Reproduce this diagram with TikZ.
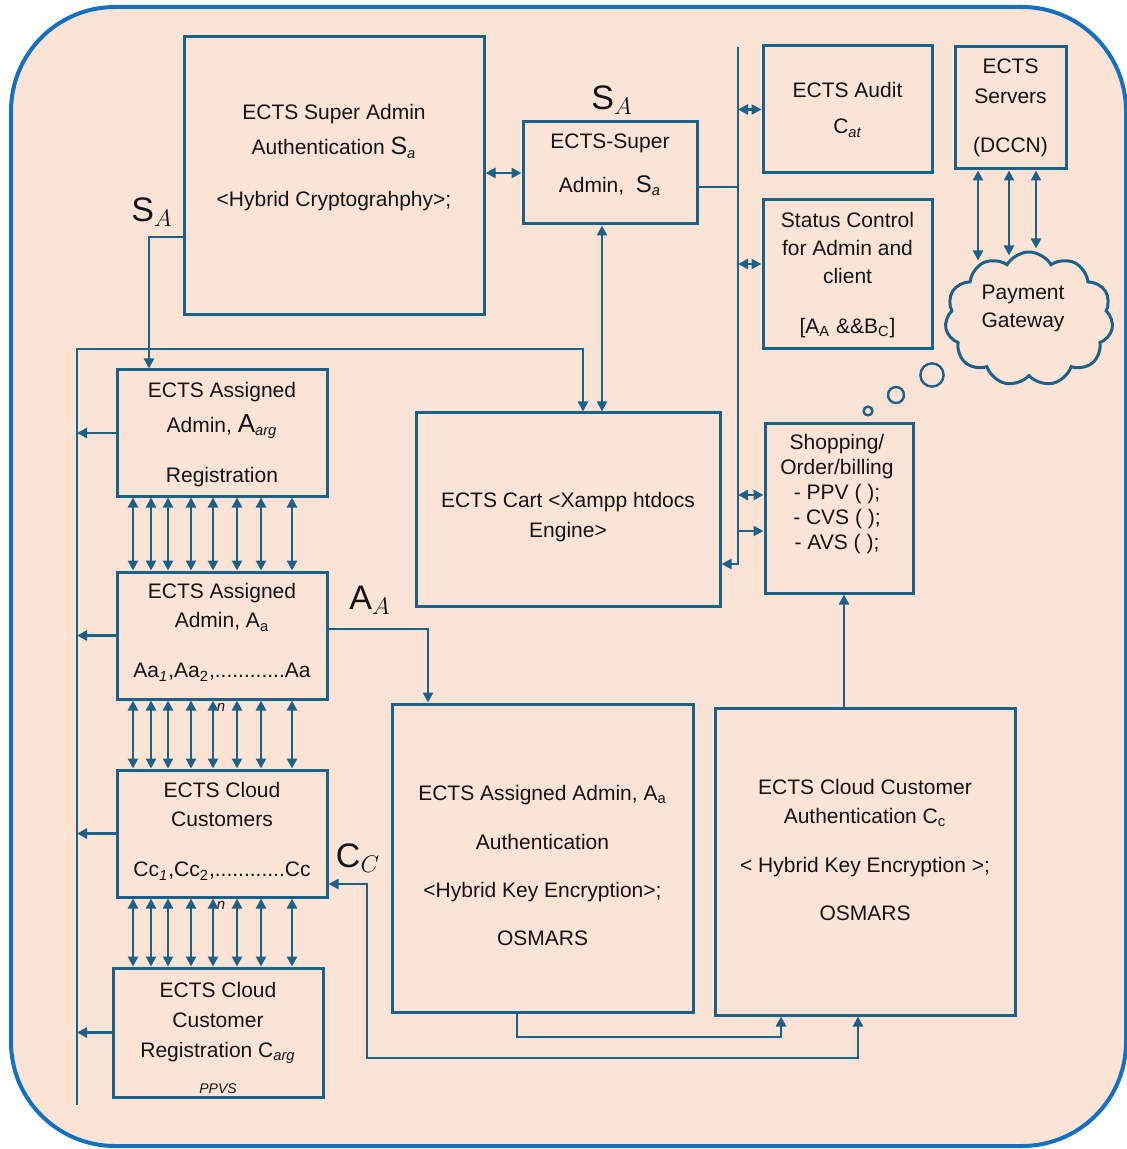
\documentclass[tikz,border=0pt]{standalone}
\usepackage{fontspec}
\setmainfont{Liberation Sans}
\usetikzlibrary{arrows.meta,calc,shapes.symbols}
\definecolor{figback}{RGB}{251,227,214}
\definecolor{figframe}{RGB}{22,112,192}
\definecolor{figline}{RGB}{28,98,136}
\definecolor{figtext}{RGB}{20,20,20}
\tikzset{
  ln/.style  ={draw=figline, line width=1.4pt},
  arr/.style ={ln, -{Triangle[length=5pt,width=5pt]}},
  dbl/.style ={ln, {Triangle[length=5pt,width=5pt]}-{Triangle[length=5pt,width=5pt]}},
  blk/.style ={draw=figline, line width=1.5pt, fill=figback, inner sep=0pt},
  txt/.style ={font=\fontsize{10.5}{14}\selectfont, align=center, inner sep=1pt, text=figtext},
  lbl/.style ={font=\fontsize{17}{19}\selectfont, inner sep=1pt, text=figtext},
  tiny/.style={font=\fontsize{7.5}{8}\selectfont\itshape, inner sep=0pt, text=figtext},
}

\begin{document}
\begin{tikzpicture}[x=0.5pt,y=-0.5pt]
  \useasboundingbox (0,0) rectangle (1126,1149);
  \draw[draw=figframe, line width=2pt, fill=figback, rounded corners=52pt] (11,7) rectangle (1126,1146);
  % boxes
  \node[blk, minimum width=150pt, minimum height=139pt] (supauth) at (334,176) {};
  \node[blk, minimum width=87pt, minimum height=51pt] (supadm) at (610,173) {};
  \node[blk, minimum width=84.5pt, minimum height=63.5pt] (audit) at (847.5,109.5) {};
  \node[blk, minimum width=84.5pt, minimum height=74.5pt] (status) at (847.5,274.5) {};
  \node[blk, minimum width=55.5pt, minimum height=61pt] (srv) at (1010.5,108) {};
  \node[cloud, cloud puffs=11, cloud puff arc=120, cloud ignores aspect, blk,
        minimum width=84pt, minimum height=67pt] (pay) at (1029,319) {};
  \node[blk, minimum width=152pt, minimum height=96.5pt] (cart) at (568,509.5) {};
  \node[blk, minimum width=74pt, minimum height=85pt] (shop) at (839,508) {};
  \node[blk, minimum width=105pt, minimum height=63pt] (aarg) at (222,433) {};
  \node[blk, minimum width=105pt, minimum height=63.5pt] (aa) at (222,635.5) {};
  \node[blk, minimum width=105pt, minimum height=63.5pt] (cc) at (222,833.5) {};
  \node[blk, minimum width=105pt, minimum height=64.5pt] (creg) at (218,1032.5) {};
  \node[blk, minimum width=150.5pt, minimum height=154pt] (aauth) at (542.5,858) {};
  \node[blk, minimum width=150pt, minimum height=153.5pt] (cauth) at (865,861.5) {};
  % thought bubbles
  \draw[ln, line width=1.2pt] (932,375) circle[radius=5.8pt];
  \draw[ln, line width=1.2pt] (896,395) circle[radius=4pt];
  \draw[ln, line width=1.2pt] (868,411) circle[radius=2.2pt];
  % texts
  \node[txt] (supauth-t) at (334,158) {ECTS Super Admin\\[3.5pt]Authentication\ {\fontsize{12.5}{14}\selectfont S}\textsubscript{\itshape a}\\[12pt]<Hybrid Cryptograhphy>;};
  \node[txt] (supadm-t) at (610,165) {ECTS-Super\\[8pt]Admin,\ \ {\fontsize{12}{14}\selectfont S}\textsubscript{\itshape a}};
  \node[txt] (audit-t) at (847.5,110) {ECTS Audit\\[4pt]C\textsubscript{\itshape at}};
  \node[txt] (status-t) at (847.5,275) {Status Control\\for Admin and\\client\\[11pt]{[}A\textsubscript{A} \&\&B\textsubscript{C}{]}};
  \node[txt] (srv-t) at (1010.5,107.5) {ECTS\\[1pt]Servers\\[10.5pt](DCCN)};
  \node[txt] (pay-t) at (1023,308) {Payment\\Gateway};
  \node[txt] (cart-t) at (568,517) {ECTS Cart <Xampp htdocs\\[1pt]Engine>};
  \node[txt] (shop-t) at (837,494) {Shopping/\\[-1.5pt]Order/billing\\[-1.5pt]- PPV ( );\\[-1.5pt]- CVS ( );\\[-1.5pt]- AVS ( );};
  \node[txt] (aarg-t) at (222,434.5) {ECTS Assigned\\[3.5pt]Admin,\ {\fontsize{13}{14}\selectfont A}\textsubscript{\itshape arg}\\[11pt]Registration};
  \node[txt] (aa-t) at (222,632.5) {ECTS Assigned\\[0.5pt]Admin,\ A\textsubscript{a}\\[11pt]Aa\textsubscript{\itshape 1},Aa\textsubscript{2},............Aa};
  \node[txt] (cc-t) at (222,831.5) {ECTS Cloud\\[0.5pt]Customers\\[11pt]Cc\textsubscript{\itshape 1},Cc\textsubscript{2},............Cc};
  \node[txt] (creg-t) at (218,1038) {ECTS Cloud\\[1pt]Customer\\[1pt]Registration C\textsubscript{\itshape arg}\\[4pt]{\fontsize{7}{8}\selectfont\itshape PPVS}};
  \node[txt] (aauth-t) at (542.5,865.5) {ECTS Assigned Admin,\ A\textsubscript{a}\\[10.5pt]Authentication\\[10pt]<Hybrid Key Encryption>;\\[10pt]OSMARS};
  \node[txt] (cauth-t) at (865,850) {ECTS Cloud Customer\\[0.5pt]Authentication\ C\textsubscript{c}\\[10.5pt]< Hybrid Key Encryption >;\\[10pt]OSMARS};
  % labels
  \node[lbl] (sa-left) at (152,212) {S$_{A}$};
  \node[lbl] (sa-top) at (612,100) {S$_{A}$};
  \node[lbl] (aa-lbl) at (370,600) {A$_{A}$};
  \node[lbl] (cc-lbl) at (358,858) {C$_{C}$};
  \node[tiny] (n-aa) at (221,707) {n};
  \node[tiny] (n-cc) at (221,905) {n};
  % buses
  \coordinate (busT) at (77,349);
  \coordinate (busB) at (77,1105);
  \coordinate (rbT) at (738,47);
  \coordinate (ccturn) at (367,1058);
  \coordinate (aaturn) at (517,1037);
  % connectors
  \draw[dbl] (supauth.east |- supadm.west) -- (supadm.west);
  \draw[arr] (supauth.west |- 0,237) -| (aarg.north -| 149,0);
  \draw[arr] (busB) -- (busT) -| (cart.north -| 583,0);
  \draw[dbl] (supadm.south -| 602,0) -- (cart.north -| 602,0);
  \draw[ln] (supadm.east |- 0,187) -- (rbT |- 0,187);
  \draw[arr] (rbT) -- (rbT |- 0,564) -- (cart.east |- 0,564);
  \draw[dbl] (rbT |- audit.west) -- (audit.west);
  \draw[dbl] (rbT |- 0,264) -- (status.west |- 0,264);
  \draw[dbl] (rbT |- 0,495) -- (shop.west |- 0,495);
  \draw[arr] (rbT |- 0,531) -- (shop.west |- 0,531);
  \foreach \x/\d in {978/10,1009/5,1036/-2}
    \draw[dbl] (srv.south -| \x,0) -- ($(pay.north -| \x,0)+(0,\d)$);
  \foreach \b in {aarg,aa,cc,creg}
    \draw[arr] (\b.west) -- (\b.west -| busT);
  \foreach \x in {133,151,168,191,213,237,261,292} {
    \draw[dbl] (aarg.south -| \x,0) -- (aa.north -| \x,0);
    \draw[dbl] (aa.south -| \x,0) -- (cc.north -| \x,0);
    \draw[dbl] (cc.south -| \x,0) -- (creg.north -| \x,0);
  }
  \draw[arr] (aa.east |- 0,629) -| (aauth.north -| 428,0);
  \draw[dbl] (cc.east |- 0,884) -| (ccturn) -| (cauth.south -| 858,0);
  \draw[arr] (aauth.south -| aaturn) -- (aaturn) -| (cauth.south -| 781,0);
  \draw[arr] (cauth.north -| 844,0) -- (shop.south -| 844,0);
\end{tikzpicture}
\end{document}
